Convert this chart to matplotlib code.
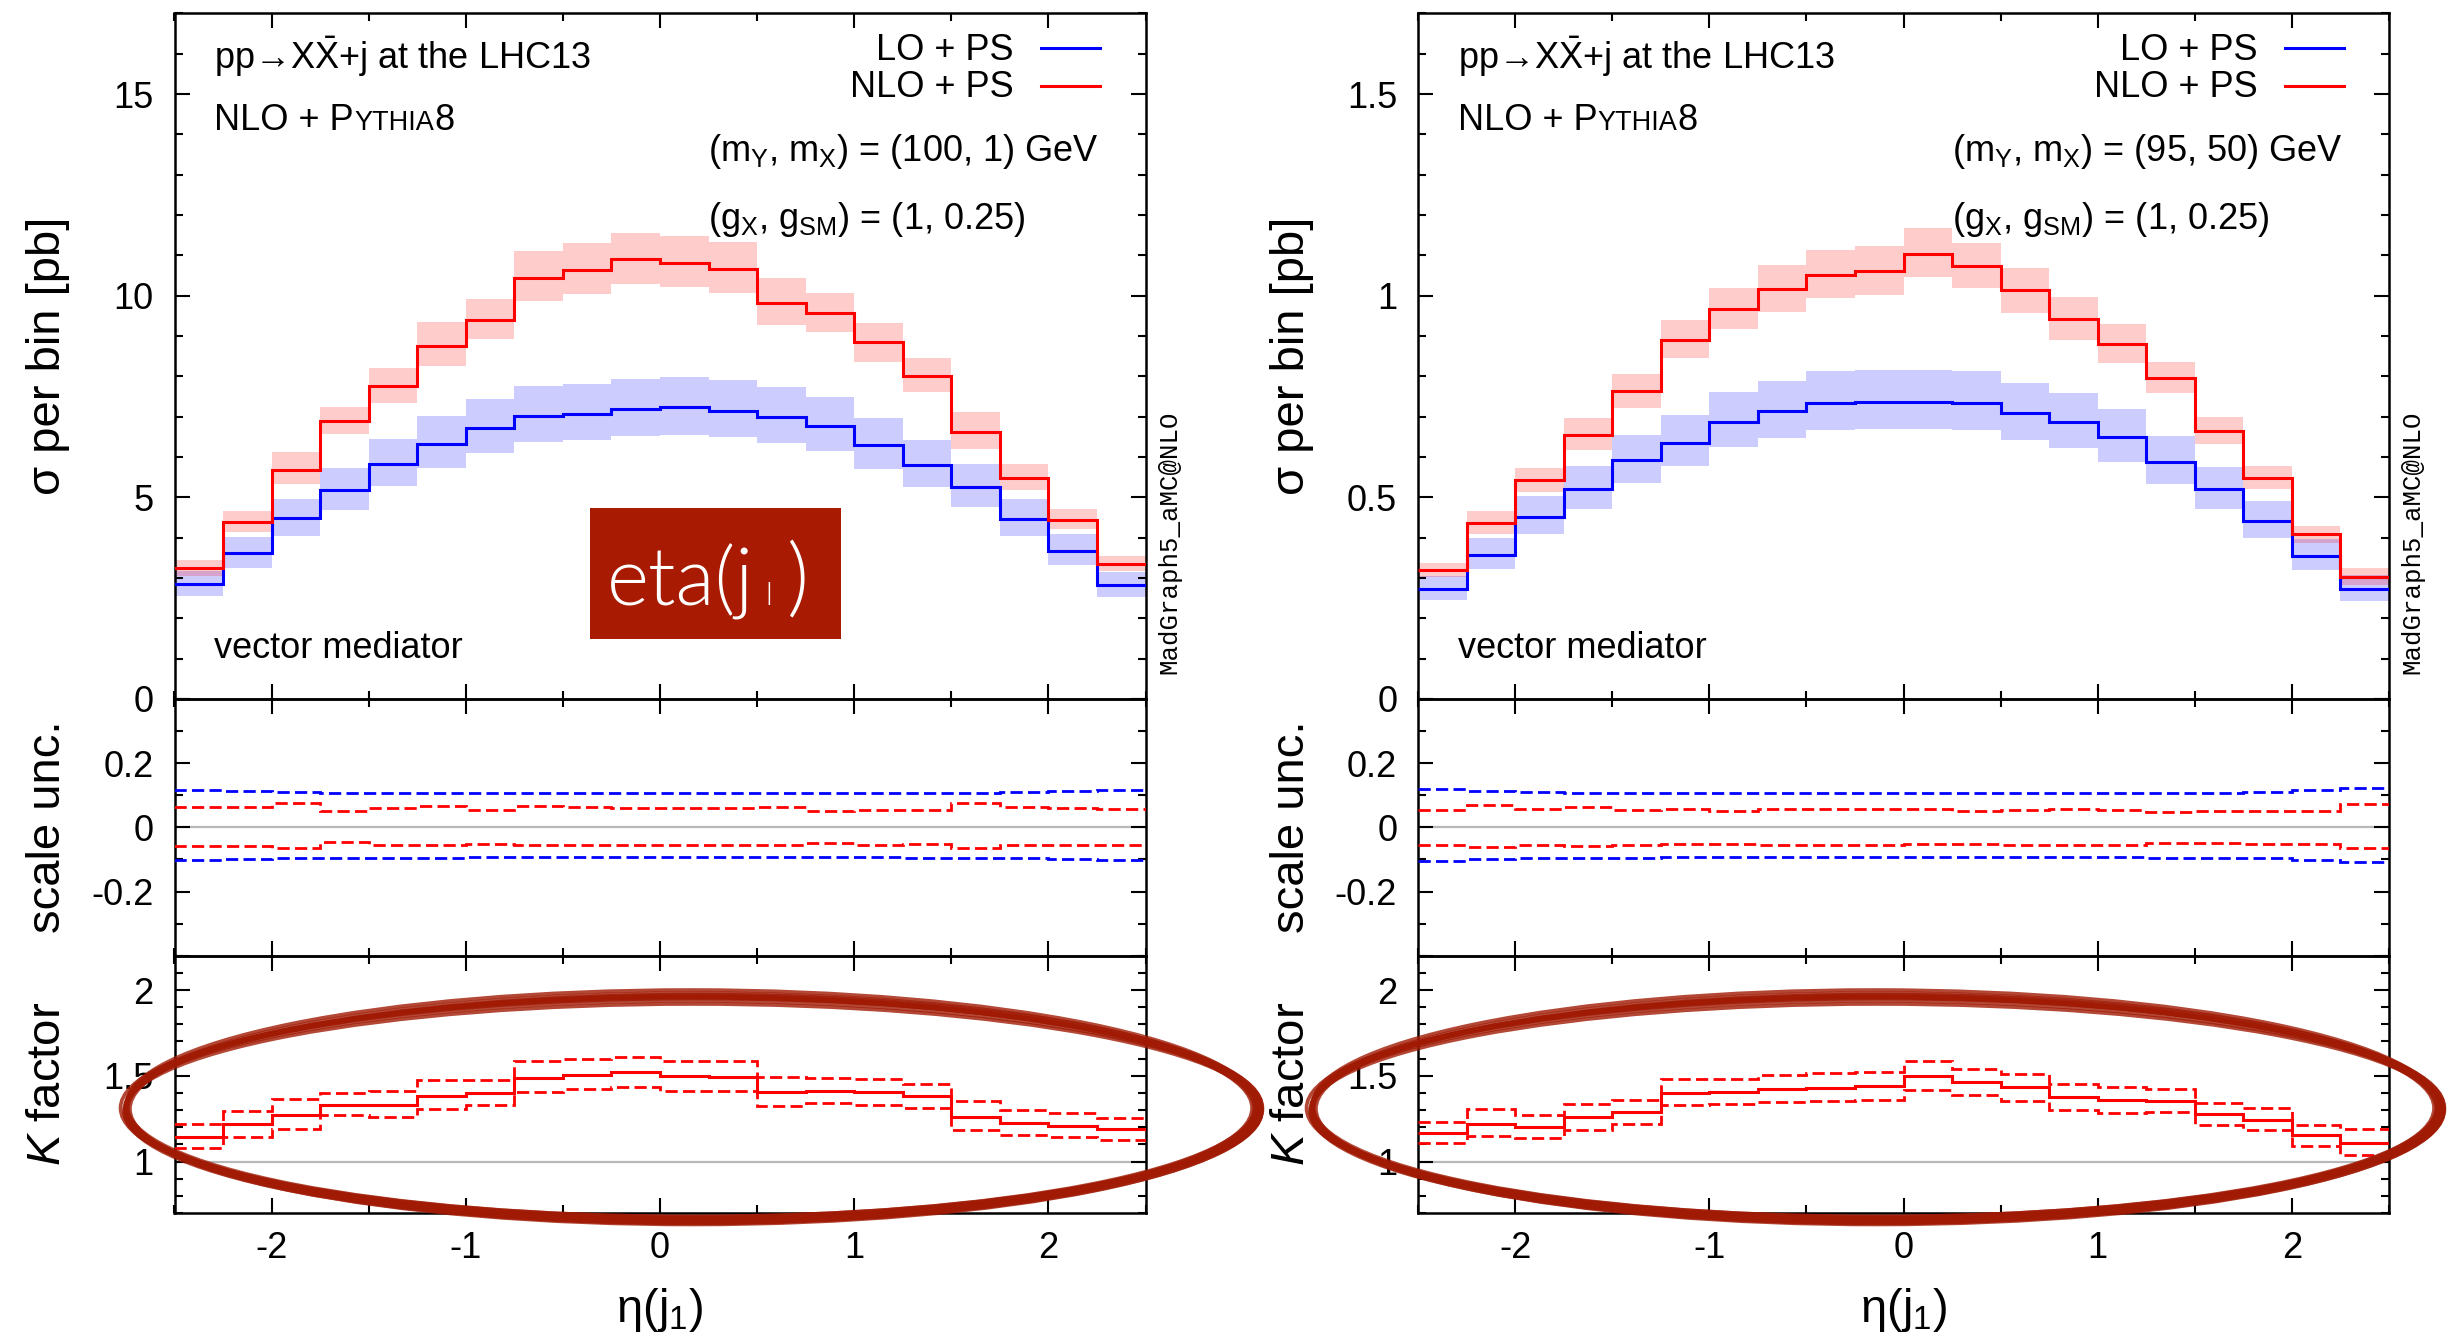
import numpy as np
import matplotlib
matplotlib.use("Agg")
import matplotlib.pyplot as plt
from matplotlib.patches import Rectangle, Ellipse
from matplotlib.lines import Line2D
from matplotlib.ticker import MultipleLocator, FuncFormatter
from matplotlib.font_manager import FontProperties
from matplotlib import font_manager

plt.rcParams['font.family'] = ['Liberation Sans', 'DejaVu Sans']
plt.rcParams['mathtext.fontset'] = 'custom'
plt.rcParams['mathtext.rm'] = 'Liberation Sans'
plt.rcParams['mathtext.it'] = 'Liberation Sans:italic'
plt.rcParams['mathtext.bf'] = 'Liberation Sans:bold'
plt.rcParams['axes.unicode_minus'] = False

# ---------------- data ----------------
eta_edges = [-2.5, -2.25, -2.0, -1.75, -1.5, -1.25, -1.0, -0.75, -0.5, -0.25, 0.0,
             0.25, 0.5, 0.75, 1.0, 1.25, 1.5, 1.75, 2.0, 2.25, 2.5]

# left: (mY, mX) = (100, 1) GeV
lo_left = [2.84, 3.61, 4.48, 5.18, 5.83, 6.33, 6.72, 7.02, 7.07, 7.18,
           7.23, 7.15, 7.00, 6.77, 6.30, 5.81, 5.25, 4.47, 3.68, 2.82]
nlo_left = [3.25, 4.39, 5.69, 6.90, 7.76, 8.75, 9.40, 10.44, 10.64, 10.91,
            10.82, 10.67, 9.83, 9.57, 8.84, 8.02, 6.62, 5.48, 4.45, 3.35]
lo_up_left = [0.116, 0.112, 0.109, 0.108, 0.107, 0.107, 0.106, 0.106, 0.106, 0.106,
              0.106, 0.106, 0.106, 0.106, 0.107, 0.107, 0.108, 0.110, 0.112, 0.116]
lo_dn_left = [-0.102, -0.099, -0.097, -0.095, -0.094, -0.094, -0.093, -0.093, -0.093, -0.093,
              -0.093, -0.093, -0.093, -0.093, -0.093, -0.094, -0.095, -0.097, -0.099, -0.102]
nlo_up_left = [0.064, 0.064, 0.075, 0.050, 0.059, 0.068, 0.055, 0.065, 0.063, 0.060,
               0.060, 0.061, 0.063, 0.052, 0.055, 0.054, 0.075, 0.063, 0.060, 0.056]
nlo_dn_left = [-0.058, -0.058, -0.063, -0.046, -0.054, -0.056, -0.051, -0.055, -0.056, -0.056,
               -0.056, -0.056, -0.056, -0.050, -0.054, -0.051, -0.063, -0.056, -0.055, -0.054]

# right: (mY, mX) = (95, 50) GeV
lo_right = [0.273, 0.358, 0.452, 0.521, 0.592, 0.636, 0.688, 0.714, 0.735, 0.737,
            0.737, 0.735, 0.708, 0.686, 0.649, 0.588, 0.520, 0.441, 0.355, 0.273]
nlo_right = [0.319, 0.437, 0.543, 0.655, 0.764, 0.891, 0.968, 1.016, 1.052, 1.062,
             1.103, 1.074, 1.014, 0.943, 0.881, 0.797, 0.665, 0.549, 0.409, 0.303]
lo_up_right = [0.120, 0.114, 0.111, 0.108, 0.107, 0.107, 0.106, 0.106, 0.106, 0.106,
               0.106, 0.106, 0.106, 0.106, 0.107, 0.107, 0.108, 0.111, 0.115, 0.122]
lo_dn_right = [-0.105, -0.099, -0.096, -0.095, -0.094, -0.093, -0.093, -0.092, -0.092, -0.092,
               -0.092, -0.092, -0.092, -0.093, -0.093, -0.094, -0.095, -0.097, -0.102, -0.107]
nlo_up_right = [0.055, 0.069, 0.056, 0.063, 0.055, 0.056, 0.052, 0.058, 0.058, 0.058,
                0.058, 0.052, 0.055, 0.056, 0.055, 0.048, 0.051, 0.052, 0.051, 0.072]
nlo_dn_right = [-0.054, -0.061, -0.055, -0.059, -0.055, -0.052, -0.052, -0.055, -0.056, -0.056,
                -0.052, -0.052, -0.056, -0.055, -0.054, -0.048, -0.050, -0.051, -0.052, -0.063]

mass_left = r"(m$_\mathrm{Y}$, m$_\mathrm{X}$) = (100, 1) GeV"
mass_right = r"(m$_\mathrm{Y}$, m$_\mathrm{X}$) = (95, 50) GeV"
coupling_text = r"(g$_\mathrm{X}$, g$_\mathrm{SM}$) = (1, 0.25)"
title_text = r"pp→X$\bar{\mathrm{X}}$+j at the LHC13"

# ---------------- figure ----------------
WF, HF = 2453, 1333
fig = plt.figure(figsize=(WF / 100, HF / 100), dpi=100, facecolor='white')


def fx(px):
    return px / WF


def fy(py):
    return 1 - py / HF


BLUE = '#0000ff'
RED = '#ff0000'
DASH = (0, (4.4, 1.9))
TICKFS = 26
TEXTFS = 26
LABFS = 34
AXW = 971.0


def light_font():
    prefs = ['Lato', 'Open Sans', 'Roboto', 'Inter', 'Noto Sans']
    cands = []
    for f in font_manager.fontManager.ttflist:
        try:
            wt = int(f.weight)
        except Exception:
            wt = {'light': 300, 'extra light': 200, 'ultralight': 200, 'thin': 100}.get(str(f.weight).lower(), 400)
        if f.name in prefs and wt <= 300 and f.style == 'normal':
            cands.append((prefs.index(f.name), abs(wt - 300), f.fname))
    if cands:
        return FontProperties(fname=sorted(cands)[0][2])
    return FontProperties(family='DejaVu Sans', weight='light')


LIGHT = light_font()


def fp_light(size):
    p = LIGHT.copy()
    p.set_size(size)
    return p


def fmt_g(v, p):
    if abs(v) < 1e-9:
        v = 0.0
    return '%g' % round(v, 6)


def fmt_scale(v, p):
    if abs(abs(v) - 0.4) < 1e-6:
        return ''
    return fmt_g(v, p)


def style(ax, ymin, ymax, major, minor, fmt, labelx=False):
    ax.set_xlim(-2.5, 2.5)
    ax.set_ylim(ymin, ymax)
    ax.xaxis.set_major_locator(MultipleLocator(1))
    ax.xaxis.set_minor_locator(MultipleLocator(0.5))
    ax.yaxis.set_major_locator(MultipleLocator(major))
    ax.yaxis.set_minor_locator(MultipleLocator(minor))
    ax.yaxis.set_major_formatter(FuncFormatter(fmt))
    ax.xaxis.set_major_formatter(FuncFormatter(fmt_g))
    ax.tick_params(which='both', direction='in', top=True, right=True, width=1.5, color='black')
    ax.tick_params(which='major', length=11)
    ax.tick_params(which='minor', length=5.5)
    ax.tick_params(axis='y', which='major', pad=15, labelsize=TICKFS)
    ax.tick_params(axis='x', which='major', pad=13, labelsize=TICKFS, labelbottom=labelx)
    for s in ax.spines.values():
        s.set_linewidth(1.8)
    ax.set_facecolor('none')


def chain_text(ax, pieces, x, y, transform, color='black', zorder=5):
    s0, p0 = pieces[0]
    prev = ax.text(x, y, s0, fontproperties=p0, transform=transform, ha='left',
                   va='baseline', color=color, zorder=zorder, clip_on=False)
    for s, p, gap in pieces[1:]:
        prev = ax.annotate(s, xy=(1, y), xycoords=(prev, transform), xytext=(gap, 0),
                           textcoords='offset points', fontproperties=p, ha='left',
                           va='baseline', color=color, zorder=zorder, annotation_clip=False)
    return prev


def fp(size, family=None):
    return FontProperties(family=family or ['Liberation Sans', 'DejaVu Sans'], size=size)


def panel(left_px, lo, nlo, lo_up, lo_dn, nlo_up, nlo_dn, ymax, major, minor, mass_txt):
    lo = np.asarray(lo); nlo = np.asarray(nlo)
    lo_up = np.asarray(lo_up); lo_dn = np.asarray(lo_dn)
    nlo_up = np.asarray(nlo_up); nlo_dn = np.asarray(nlo_dn)
    w = AXW / WF
    top_main, b_main, b_scale, b_k = 13.4, 699.0, 955.7, 1213.0
    ax1 = fig.add_axes([fx(left_px), fy(b_main), w, (b_main - top_main) / HF])
    ax2 = fig.add_axes([fx(left_px), fy(b_scale), w, (b_scale - b_main) / HF])
    ax3 = fig.add_axes([fx(left_px), fy(b_k), w, (b_k - b_scale) / HF])

    # main panel
    ax1.stairs(lo * (1 + lo_up), eta_edges, baseline=lo * (1 + lo_dn), fill=True,
               color=(0, 0, 1, 0.2), lw=0, zorder=1)
    ax1.stairs(nlo * (1 + nlo_up), eta_edges, baseline=nlo * (1 + nlo_dn), fill=True,
               color=(1, 0, 0, 0.2), lw=0, zorder=1)
    ax1.stairs(lo, eta_edges, baseline=None, color=BLUE, lw=2.2, zorder=3)
    ax1.stairs(nlo, eta_edges, baseline=None, color=RED, lw=2.2, zorder=3)
    style(ax1, 0, ymax, major, minor, fmt_g)

    # scale uncertainty panel
    ax2.axhline(0, color='#b8b8b8', lw=1.6, zorder=1)
    ax2.stairs(lo_up, eta_edges, baseline=None, color=BLUE, lw=2.0, linestyle=DASH, zorder=3)
    ax2.stairs(lo_dn, eta_edges, baseline=None, color=BLUE, lw=2.0, linestyle=DASH, zorder=3)
    ax2.stairs(nlo_up, eta_edges, baseline=None, color=RED, lw=2.0, linestyle=DASH, zorder=3)
    ax2.stairs(nlo_dn, eta_edges, baseline=None, color=RED, lw=2.0, linestyle=DASH, zorder=3)
    style(ax2, -0.4, 0.4, 0.2, 0.1, fmt_scale)

    # K factor panel
    k = nlo / lo
    ax3.axhline(1, color='#b8b8b8', lw=1.6, zorder=1)
    ax3.stairs(k, eta_edges, baseline=None, color=RED, lw=2.2, zorder=3)
    ax3.stairs(k * (1 + nlo_up), eta_edges, baseline=None, color=RED, lw=2.0, linestyle=DASH, zorder=3)
    ax3.stairs(k * (1 + nlo_dn), eta_edges, baseline=None, color=RED, lw=2.0, linestyle=DASH, zorder=3)
    style(ax3, 0.7, 2.2, 0.5, 0.1, fmt_g, labelx=True)

    # texts in main panel (axes fraction from pixel offsets)
    H1 = b_main - top_main

    def ay(dy):
        return 1 - dy / H1

    tr = ax1.transAxes
    ax1.text(40 / AXW, ay(55.8), title_text, fontproperties=fp(TEXTFS), transform=tr,
             ha='left', va='baseline')
    chain_text(ax1, [("NLO + P", fp(TEXTFS)), ("YTHIA", fp(19.5), 0), ("8", fp(TEXTFS), 0)],
               40 / AXW, ay(117), tr)
    ax1.text(839.5 / AXW, ay(46.9), "LO + PS", fontproperties=fp(TEXTFS), transform=tr,
             ha='right', va='baseline')
    ax1.text(839.5 / AXW, ay(83.9), "NLO + PS", fontproperties=fp(TEXTFS), transform=tr,
             ha='right', va='baseline')
    ax1.add_line(Line2D([866.5 / AXW, 925.5 / AXW], [ay(34.8), ay(34.8)], transform=tr,
                        color=BLUE, lw=2.2))
    ax1.add_line(Line2D([866.5 / AXW, 925.5 / AXW], [ay(72.8), ay(72.8)], transform=tr,
                        color=RED, lw=2.2))
    ax1.text(533.5 / AXW, ay(147.3), mass_txt, fontproperties=fp(TEXTFS), transform=tr,
             ha='left', va='baseline')
    ax1.text(533.5 / AXW, ay(215.2), coupling_text, fontproperties=fp(TEXTFS), transform=tr,
             ha='left', va='baseline')
    ax1.text(40 / AXW, ay(645), "vector mediator", fontproperties=fp(TEXTFS), transform=tr,
             ha='left', va='baseline')

    # axis labels
    xb = fx(left_px - 114)
    fig.text(xb, fy(356), "σ per bin [pb]", rotation=90, rotation_mode='anchor',
             ha='center', va='baseline', fontproperties=fp(LABFS))
    fig.text(xb, fy(827), "scale unc.", rotation=90, rotation_mode='anchor',
             ha='center', va='baseline', fontproperties=fp(LABFS))
    fig.text(xb, fy(1084), r"$\mathit{K}$ factor", rotation=90, rotation_mode='anchor',
             ha='center', va='baseline', fontproperties=fp(LABFS))
    fig.text(fx(left_px + AXW / 2), fy(1322), r"η(j$_\mathrm{1}$)", ha='center',
             va='baseline', fontproperties=fp(LABFS))
    fig.text(fx(left_px + AXW + 23.5), fy(542), "MadGraph5_aMC@NLO", rotation=90,
             ha='center', va='center',
             fontproperties=FontProperties(family=['Liberation Mono', 'DejaVu Sans Mono'], size=18.5))
    return ax1, ax2, ax3


axL = panel(174.5, lo_left, nlo_left, lo_up_left, lo_dn_left, nlo_up_left, nlo_dn_left,
            17, 5, 1, mass_left)
axR = panel(1418.0, lo_right, nlo_right, lo_up_right, lo_dn_right, nlo_up_right, nlo_dn_right,
            1.7, 0.5, 0.1, mass_right)

# ---------------- overlay: "eta(j1)" box on left panel ----------------
BOX = '#a81a02'
ax1L = axL[0]
ax1L.add_patch(Rectangle((fx(590), fy(639)), 251 / WF, 131.3 / HF, transform=fig.transFigure,
                         facecolor=BOX, edgecolor='none', zorder=10, clip_on=False))
chain_text(ax1L, [("eta(j", fp_light(58)), ("l", fp_light(22), 8), (")", fp_light(62), 11)],
           fx(607), fy(605), fig.transFigure, color='white', zorder=11)

# ---------------- overlay: hand-drawn ellipses round the K-factor panels ----------------
ELL = '#a01a04'
strokes = [(0, 0, 0, 0, 0.0), (2, -1, 4, -5, 0.1), (-2, 1, -3, 4, -0.1), (1, 2, 6, 3, 0.06),
           (-1, -2, -5, -3, -0.06), (3, 1, 3, 7, 0.12), (-3, -1, -6, -2, -0.12), (1, 3, 5, -8, 0.03),
           (-1, -3, -2, 8, -0.03), (2, 0, -4, 1, 0.08), (-2, 0, 7, -1, -0.08), (0, 1, 1, -6, 0.0),
           (0, -1, -1, 6, 0.0)]
for (cx, cy, ew, eh) in [(692, 1108.5, 1132, 223), (1876, 1108.5, 1128, 223)]:
    for dx, dy, dw, dh, da in strokes:
        fig.add_artist(Ellipse((fx(cx + dx), fy(cy + dy)), (ew + dw) / WF, (eh + dh) / HF,
                               angle=da, transform=fig.transFigure, fill=False, edgecolor=ELL,
                               lw=2.6, alpha=0.8, zorder=20))

fig.savefig("out.png", dpi=100, facecolor='white')
